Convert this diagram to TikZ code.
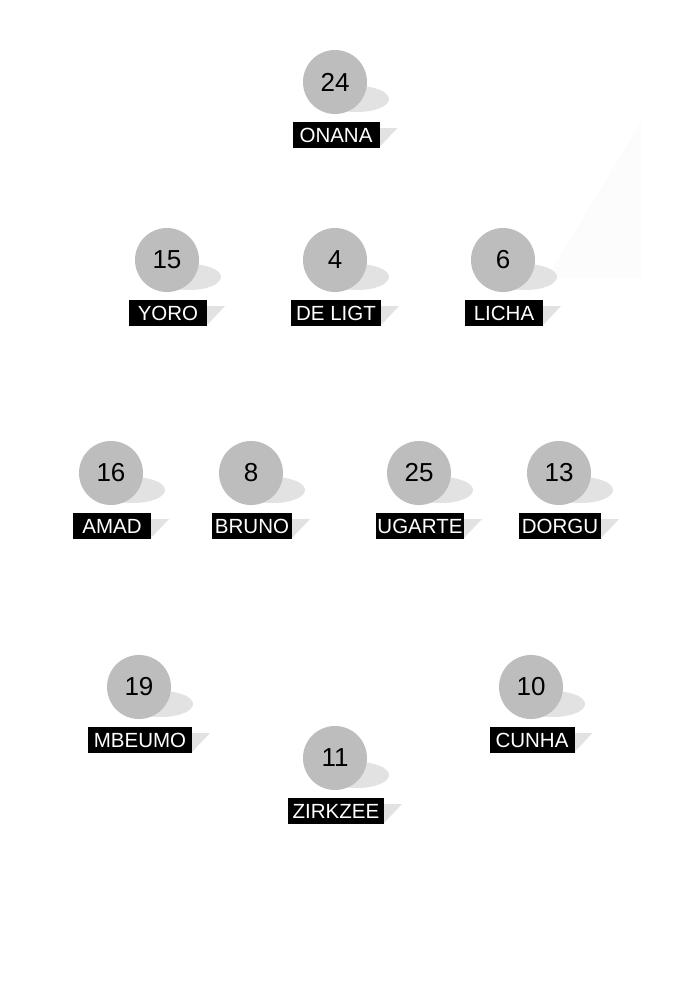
\documentclass[tikz,border=0pt]{standalone}
\usepackage{fontspec}
\setmainfont{Liberation Sans}
\definecolor{ballgray}{HTML}{BDBDBD}
\definecolor{shadegray}{HTML}{E2E2E2}
\definecolor{markgray}{HTML}{FCFCFC}
\tikzset{
  ball/.style={circle, fill=ballgray, minimum size=64pt, inner sep=0pt, text=black, font=\fontsize{26}{26}\selectfont},
  tag/.style={fill=black, text=white, minimum height=26pt, inner sep=0pt, font=\fontsize{20.5}{20.5}\selectfont},
  shade/.style={fill=shadegray}
}
\newcommand{\plyr}[6]{%
  \fill[shade] (#2+22,#3+17) ellipse [x radius=32, y radius=13];
  \node[ball] (#1c) at (#2,#3) {#4};
  \fill[shade] (#2+1+#6/2,#3+46) -- ++(18,0) -- ++(-18,19) -- cycle;
  \node[tag, minimum width=#6pt] (#1l) at (#2+1,#3+53) {#5};
}
\begin{document}
\begin{tikzpicture}[x=1pt,y=-1pt]
\useasboundingbox (0,0) rectangle (674,996);
\fill[white] (0,0) rectangle (674,996);
\fill[markgray] (641,122) -- (641,278) -- (547,278) -- cycle;
\plyr{onana}{335}{82}{24}{ONANA}{87}
\plyr{yoro}{167}{260}{15}{YORO}{78}
\plyr{deligt}{335}{260}{4}{DE LIGT}{90}
\plyr{licha}{503}{260}{6}{LICHA}{78}
\plyr{amad}{111}{473}{16}{AMAD}{78}
\plyr{bruno}{251}{473}{8}{BRUNO}{80}
\plyr{ugarte}{419}{473}{25}{UGARTE}{88}
\plyr{dorgu}{559}{473}{13}{DORGU}{82}
\plyr{mbeumo}{139}{687}{19}{MBEUMO}{104}
\plyr{cunha}{531}{687}{10}{CUNHA}{85}
\plyr{zirkzee}{335}{758}{11}{ZIRKZEE}{96}
\end{tikzpicture}
\end{document}
